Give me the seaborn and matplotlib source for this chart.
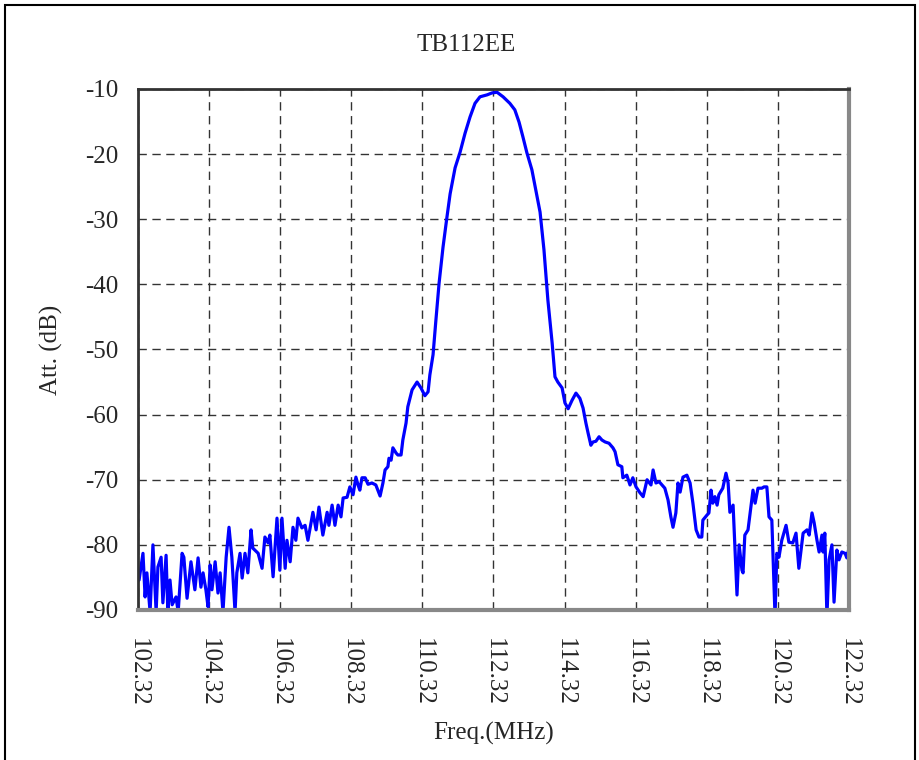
import matplotlib
matplotlib.use('Agg')
import matplotlib.pyplot as plt
import seaborn as sns
import pandas as pd

# DANE
tytul = 'TB112EE'
x_ticks = [102.32, 104.32, 106.32, 108.32, 110.32, 112.32, 114.32, 116.32, 118.32, 120.32, 122.32]
y_ticks = [-90, -80, -70, -60, -50, -40, -30, -20, -10]

freq = [
    102.35, 102.46, 102.52, 102.57, 102.66, 102.74, 102.83, 102.88, 102.97, 103.02,
    103.11, 103.16, 103.22, 103.28, 103.39, 103.45, 103.56, 103.61, 103.70, 103.81,
    103.92, 104.01, 104.09, 104.15, 104.23, 104.29, 104.35, 104.40, 104.49, 104.57,
    104.63, 104.71, 104.80, 104.88, 104.96, 105.05, 105.10, 105.19, 105.25, 105.33,
    105.41, 105.50, 105.55, 105.70, 105.81, 105.89, 105.98, 106.03, 106.12, 106.23,
    106.31, 106.37, 106.46, 106.51, 106.60, 106.68, 106.76, 106.82, 106.93, 107.02,
    107.10, 107.24, 107.33, 107.41, 107.52, 107.64, 107.69, 107.78, 107.86, 107.95,
    108.03, 108.09, 108.20, 108.28, 108.37, 108.45, 108.51, 108.56, 108.62, 108.71,
    108.79, 108.90, 109.01, 109.13, 109.21, 109.27, 109.35, 109.38, 109.44, 109.49,
    109.58, 109.63, 109.72, 109.77, 109.86, 109.91, 110.03, 110.17, 110.28, 110.39,
    110.48, 110.53, 110.62, 110.70, 110.79, 110.90, 111.01, 111.10, 111.24, 111.38,
    111.52, 111.66, 111.80, 111.94, 112.14, 112.28, 112.42, 112.59, 112.78, 112.92,
    113.04, 113.15, 113.26, 113.40, 113.52, 113.63, 113.74, 113.85, 113.97, 114.05,
    114.13, 114.25, 114.33, 114.42, 114.53, 114.64, 114.75, 114.84, 114.92, 114.98,
    115.06, 115.12, 115.20, 115.29, 115.37, 115.46, 115.57, 115.68, 115.74, 115.82,
    115.93, 115.96, 116.07, 116.16, 116.24, 116.33, 116.44, 116.53, 116.64, 116.75,
    116.81, 116.89, 116.98, 117.14, 117.23, 117.31, 117.37, 117.45, 117.51, 117.57,
    117.65, 117.76, 117.85, 117.93, 118.02, 118.10, 118.18, 118.21, 118.33, 118.38,
    118.44, 118.49, 118.55, 118.61, 118.66, 118.77, 118.86, 118.92, 118.97, 119.06,
    119.11, 119.17, 119.23, 119.31, 119.34, 119.39, 119.48, 119.54, 119.62, 119.68,
    119.76, 119.87, 119.93, 120.01, 120.07, 120.15, 120.18, 120.24, 120.29, 120.35,
    120.43, 120.55, 120.63, 120.74, 120.83, 120.91, 121.03, 121.14, 121.20, 121.28,
    121.34, 121.42, 121.48, 121.56, 121.59, 121.64, 121.70, 121.76, 121.84, 121.90,
    121.98, 122.04, 122.12, 122.21, 122.26, 122.32,
]

att = [
    -85.4, -81.3, -88.0, -84.3, -90.3, -80.0, -90.3, -83.4, -81.9, -88.9,
    -81.6, -90.3, -85.4, -89.2, -88.0, -90.3, -81.3, -81.9, -88.2, -82.6,
    -86.9, -82.0, -86.5, -84.3, -86.9, -89.5, -83.1, -86.9, -82.6, -87.4,
    -84.3, -90.3, -81.9, -77.3, -81.9, -90.3, -84.3, -81.3, -85.1, -81.3,
    -84.3, -77.7, -80.5, -81.3, -83.6, -78.8, -79.7, -78.5, -84.9, -75.9,
    -83.9, -75.9, -83.6, -79.3, -82.6, -77.3, -79.3, -75.9, -77.4, -77.0,
    -79.3, -75.0, -77.7, -74.2, -78.5, -75.0, -77.0, -73.9, -77.0, -73.9,
    -75.7, -72.8, -72.7, -71.1, -72.3, -69.6, -70.8, -71.6, -69.7, -69.7,
    -70.7, -70.5, -70.8, -72.5, -70.5, -68.5, -68.0, -66.7, -67.0, -65.1,
    -65.9, -66.2, -66.2, -63.9, -61.3, -58.8, -56.2, -55.0, -55.9, -57.1,
    -56.5, -53.9, -50.8, -45.5, -39.8, -34.3, -29.7, -26.1, -22.1, -19.7,
    -16.8, -14.3, -12.2, -11.2, -10.9, -10.6, -10.5, -11.2, -12.2, -13.2,
    -15.1, -17.4, -19.8, -22.4, -25.8, -28.9, -34.7, -42.4, -49.0, -54.2,
    -55.0, -55.9, -58.2, -59.1, -57.8, -56.7, -57.5, -59.0, -61.3, -62.8,
    -64.7, -64.2, -64.1, -63.4, -63.9, -64.2, -64.4, -65.1, -65.7, -67.7,
    -68.0, -69.7, -69.3, -70.8, -69.7, -71.1, -72.0, -72.6, -70.0, -70.8,
    -68.5, -70.5, -70.3, -71.3, -73.1, -75.7, -77.3, -75.1, -70.5, -71.9,
    -69.6, -69.3, -70.5, -73.6, -77.7, -78.8, -78.8, -76.2, -75.4, -75.1,
    -71.6, -73.6, -72.6, -73.9, -72.3, -71.3, -69.0, -70.5, -75.0, -73.9,
    -80.3, -87.7, -80.0, -83.9, -84.3, -78.5, -77.7, -75.1, -71.6, -73.6,
    -71.3, -71.3, -71.1, -71.1, -75.7, -76.2, -81.3, -91.0, -81.3, -81.9,
    -79.3, -77.0, -79.6, -79.7, -78.2, -83.6, -78.2, -77.7, -78.5, -75.1,
    -76.6, -79.3, -81.1, -78.5, -81.1, -78.2, -91.0, -82.3, -80.0, -88.8,
    -80.8, -82.3, -81.1, -81.3, -82.0, -80.5,
]

df = pd.DataFrame({'Freq': freq, 'Att': att})

# STYL
sns.set_style('white')
plt.rcParams['font.family'] = ['Liberation Serif', 'DejaVu Serif']

fig = plt.figure(figsize=(9.2, 7.6), dpi=100)
ax = fig.add_axes([0.15, 0.1974, 0.7728, 0.6855])

sns.lineplot(data=df, x='Freq', y='Att', ax=ax, color='#0000ff', linewidth=2.3,
             estimator=None, sort=False)

ax.set_xlim(x_ticks[0], x_ticks[-1])
ax.set_ylim(y_ticks[0], y_ticks[-1])
ax.set_xticks(x_ticks)
ax.set_yticks(y_ticks)
ax.set_xticklabels([f'{v:.2f}' for v in x_ticks], rotation=-90, fontsize=18)
ax.set_yticklabels([str(v) for v in y_ticks], fontsize=18)
ax.tick_params(axis='both', length=0)
ax.tick_params(axis='x', pad=20)
ax.tick_params(axis='y', pad=14)

# siatka przerywana
ax.set_axisbelow(True)
ax.grid(True, linestyle=(0, (6, 4)), color='#333333', linewidth=1)

# ramka wykresu
for side in ['left', 'top']:
    ax.spines[side].set_color('#333333')
    ax.spines[side].set_linewidth(2)
for side in ['right', 'bottom']:
    ax.spines[side].set_color('#888888')
    ax.spines[side].set_linewidth(3)

ax.set_xlabel('Freq.(MHz)', fontsize=18)
ax.set_ylabel('Att. (dB)', fontsize=18)
ax.xaxis.set_label_coords(0.5, -0.215)
ax.yaxis.set_label_coords(-0.105, 0.5)

fig.text(0.507, 0.941, tytul, ha='center', va='center', fontsize=18)

# ramka całej figury
fig.add_artist(plt.Rectangle((0.0054, -0.01), 0.9892, 1.0034, transform=fig.transFigure,
                             fill=False, edgecolor='black', linewidth=1.5))

fig.savefig('out.png', dpi=100)
